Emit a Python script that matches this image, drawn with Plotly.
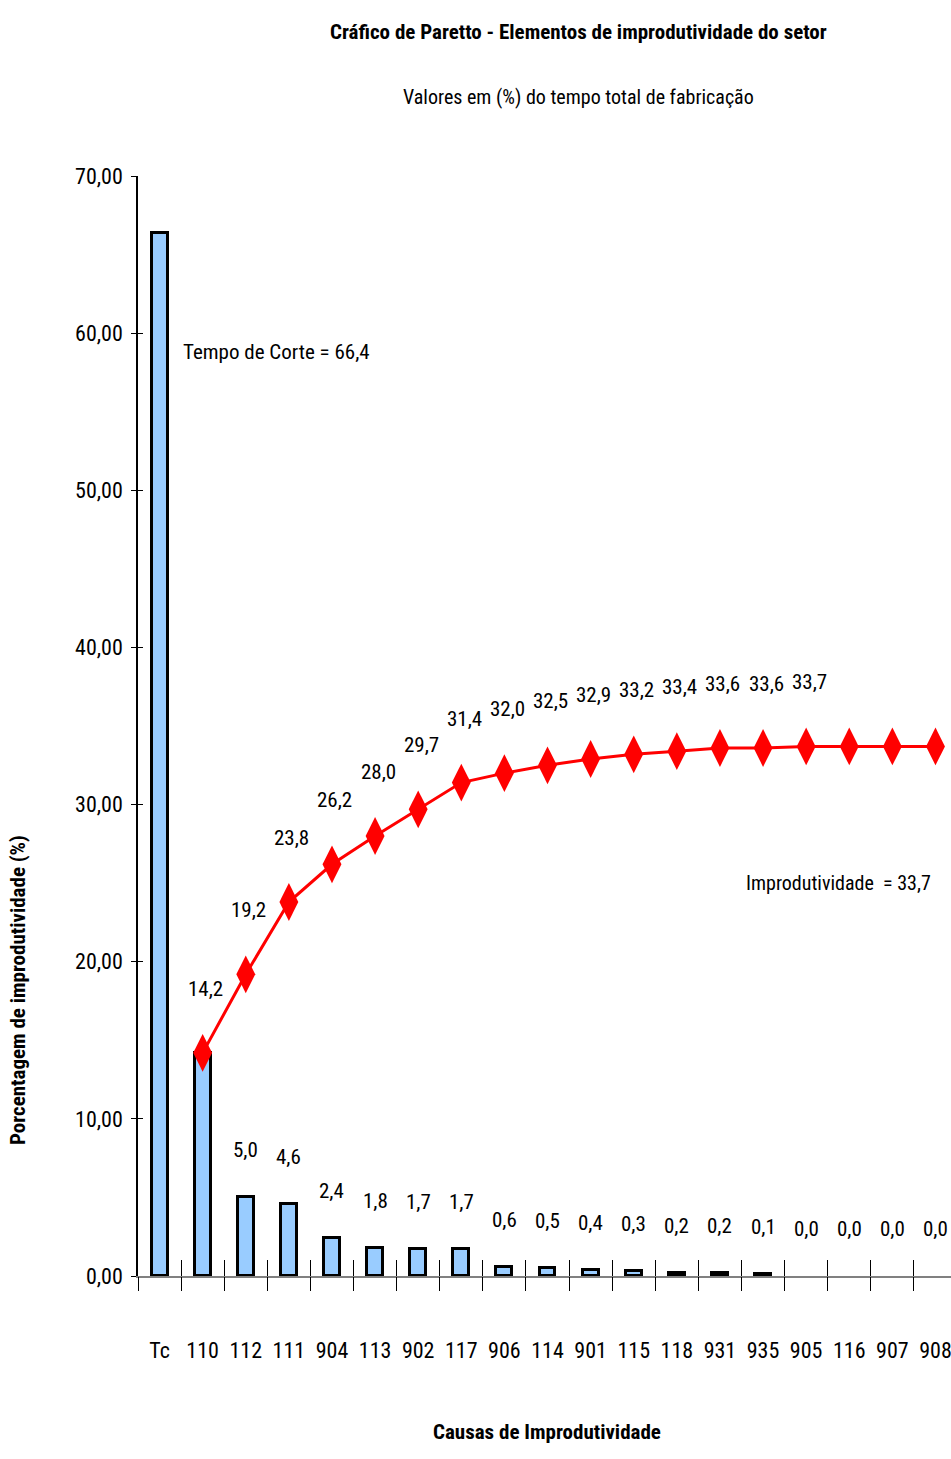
import plotly.graph_objects as go

# Categories (causes of unproductive time), bar values and cumulative curve
causes = ["Tc", "110", "112", "111", "904", "113", "902", "117", "906",
          "114", "901", "115", "118", "931", "935", "905", "116", "907", "908"]
share = [66.4, 14.2, 5.0, 4.6, 2.4, 1.8, 1.7, 1.7, 0.6,
         0.5, 0.4, 0.3, 0.2, 0.2, 0.1, 0.0, 0.0, 0.0, 0.0]
# Cumulative unproductivity, starting at cause "110"
cumulative = [14.2, 19.2, 23.8, 26.2, 28.0, 29.7, 31.4, 32.0, 32.5,
              32.9, 33.2, 33.4, 33.6, 33.6, 33.7, 33.7, 33.7, 33.7]
labelled_cum_points = 15
y_ticks = [0, 10, 20, 30, 40, 50, 60, 70]

cut_time = share[0]
total_unprod = cumulative[labelled_cum_points - 1]

FONT = "Roboto Condensed, Liberation Sans, sans-serif"
FS = 21
W, H = 951, 1459
L, R, T, B = 138, 0, 176, 183
x_lo, x_hi = -0.5, 18.36
y_lo, y_hi = 0, 70


def fmt(v):
    return f"{v:.1f}".replace(".", ",")


xpos = list(range(len(causes)))
cum_x = xpos[1:]

fig = go.Figure()
fig.add_trace(go.Bar(
    x=xpos, y=share, width=0.37,
    marker=dict(color="#99CCFF",
                line=dict(color="#000000", width=[3 if v > 0 else 0 for v in share])),
    hoverinfo="skip", showlegend=False,
))
fig.add_trace(go.Scatter(
    x=cum_x, y=cumulative, mode="lines+markers",
    line=dict(color="#FF0000", width=3),
    marker=dict(symbol="diamond-tall", size=27, color="#FF0000"),
    hoverinfo="skip", showlegend=False, cliponaxis=False,
))
# empty carriers so the overlaid tick-only axes are drawn
for xa, ya in (("x2", "y"), ("x3", "y"), ("x", "y2")):
    fig.add_trace(go.Scatter(x=[0], y=[0], xaxis=xa, yaxis=ya, mode="markers",
                             marker=dict(opacity=0), hoverinfo="skip", showlegend=False))

label_font = dict(family=FONT, size=FS, color="#000000")
ann = []
# value labels above the small bars (from "112" onward)
for i in range(2, len(causes)):
    ann.append(dict(x=xpos[i], y=share[i], xref="x", yref="y", text=fmt(share[i]),
                    showarrow=False, xanchor="center", yanchor="middle", yshift=47,
                    font=label_font))
# labels on the cumulative curve
for i in range(labelled_cum_points):
    ann.append(dict(x=cum_x[i], y=cumulative[i], xref="x", yref="y", text=fmt(cumulative[i]),
                    showarrow=False, xanchor="center", yanchor="middle", yshift=64, xshift=3,
                    font=label_font))

plot_w = W - L - R
plot_h = H - T - B


def px_x(p):
    return (p - L) / plot_w


def px_y(p):
    return (H - B - p) / plot_h


def text_at(px, py, text, size=FS, **kw):
    opts = dict(x=px_x(px), y=px_y(py), xref="paper", yref="paper", showarrow=False,
                xanchor="center", yanchor="middle", text=text,
                font=dict(family=FONT, size=size, color="#000000"))
    opts.update(kw)
    return opts


ann += [
    text_at(578, 32, "<b>Cráfico de Paretto - Elementos de improdutividade do setor</b>", 21),
    text_at(578, 97, "Valores em (%) do tempo total de fabricação", 20),
    text_at(547, 1432, "<b>Causas de Improdutividade</b>", 21),
    text_at(18, 990, "<b>Porcentagem de improdutividade (%)</b>", 21, textangle=-90),
    text_at(276, 352, f"Tempo de Corte = {fmt(cut_time)}", 21),
    text_at(838, 883, f"Improdutividade  = {fmt(total_unprod)}", 20),
]

boundaries = [i - 0.5 for i in range(len(causes) + 1)]

fig.update_layout(
    width=W, height=H,
    margin=dict(l=L, r=R, t=T, b=B, pad=0),
    paper_bgcolor="#FFFFFF", plot_bgcolor="#FFFFFF",
    separators=",.",
    bargap=0,
    font=dict(family=FONT, color="#000000"),
    annotations=ann,
    xaxis=dict(range=[x_lo, x_hi], tickvals=xpos, ticktext=causes, ticks="",
               tickangle=0, ticklabeloverflow="allow",
               showgrid=False, zeroline=False, showline=True,
               linecolor="#808080", linewidth=2,
               ticklabelstandoff=54,
               tickfont=dict(family=FONT, size=22, color="#000000")),
    xaxis2=dict(range=[x_lo, x_hi], overlaying="x", anchor="y", tickvals=boundaries,
                ticks="outside", ticklen=14, tickcolor="#000000", tickwidth=1,
                showticklabels=False, showgrid=False, zeroline=False, showline=False),
    xaxis3=dict(range=[x_lo, x_hi], overlaying="x", anchor="y", tickvals=boundaries,
                ticks="inside", ticklen=16, tickcolor="#000000", tickwidth=1,
                showticklabels=False, showgrid=False, zeroline=False, showline=False),
    yaxis=dict(range=[y_lo, y_hi], tickvals=y_ticks, tickformat=".2f",
               ticks="outside", ticklen=5, tickcolor="#000000", tickwidth=1,
               showgrid=False, zeroline=False, showline=True,
               linecolor="#000000", linewidth=1.5, ticklabelstandoff=4,
               tickfont=dict(family=FONT, size=22, color="#000000")),
    yaxis2=dict(range=[y_lo, y_hi], overlaying="y", anchor="x", tickvals=y_ticks,
                ticks="inside", ticklen=5, tickcolor="#000000", tickwidth=1,
                showticklabels=False, showgrid=False, zeroline=False, showline=False,
                side="left"),
)

fig.write_html("out.html")
